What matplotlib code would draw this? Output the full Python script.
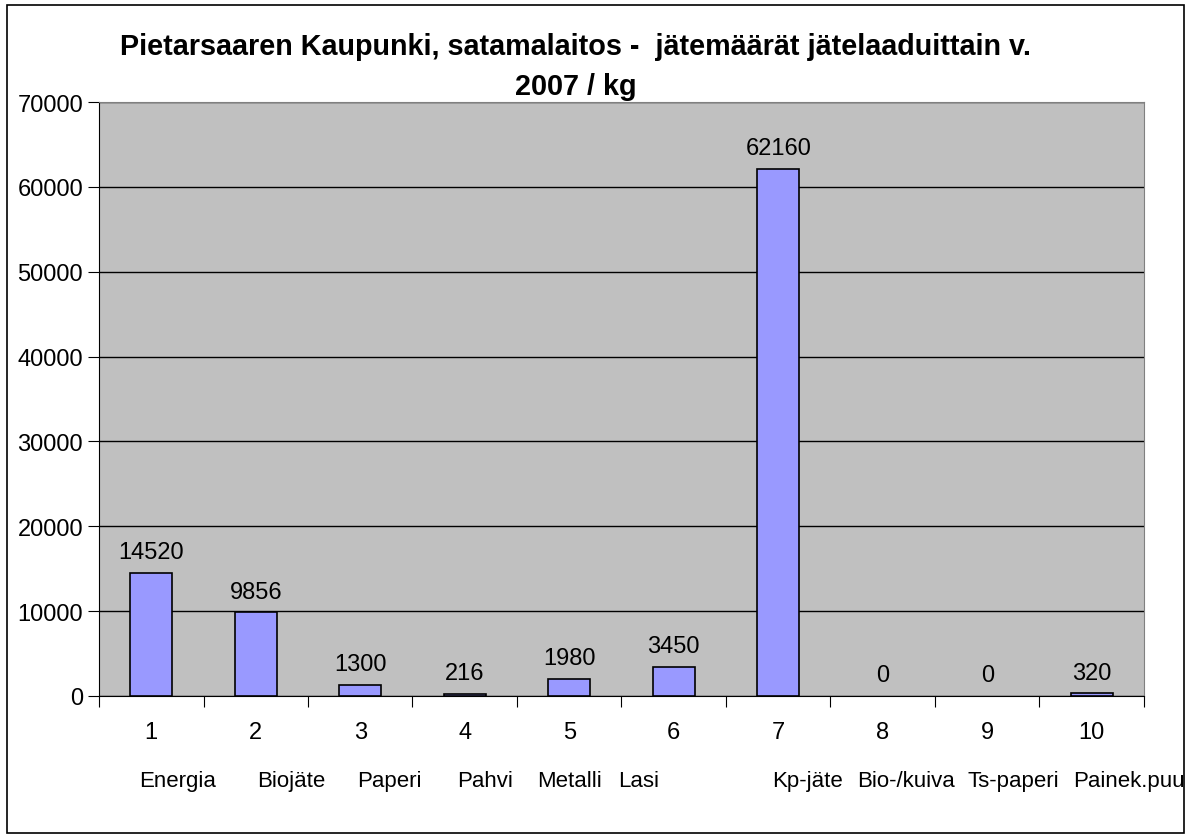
import matplotlib
matplotlib.use("Agg")
import matplotlib.pyplot as plt
from matplotlib.patches import Rectangle

# data
nums = ["1", "2", "3", "4", "5", "6", "7", "8", "9", "10"]
names = ["Energia", "Biojäte", "Paperi", "Pahvi", "Metalli", "Lasi",
         "Kp-jäte", "Bio-/kuiva", "Ts-paperi", "Painek.puu"]
values = [14520, 9856, 1300, 216, 1980, 3450, 62160, 0, 0, 320]
yticks = [0, 10000, 20000, 30000, 40000, 50000, 60000, 70000]

# name label shifts (in category units), names are not centred under numbers
name_shift = [0.25, 0.34, 0.28, 0.19, 0.0, -0.34, 0.28, 0.22, 0.25, 0.36]

plt.rcParams['font.family'] = ['Liberation Sans', 'DejaVu Sans']

fig = plt.figure(figsize=(11.9, 8.37), dpi=100)
ax = fig.add_axes([0.0832, 0.1673, 0.8781, 0.7096])

x = list(range(len(values)))
ax.set_facecolor("#C0C0C0")
# no outline on empty bars
lw = [1.2 if v > 0 else 0 for v in values]
ax.bar(x, values, width=0.4, color="#9999FF", edgecolor="black", linewidth=lw, zorder=3)

ax.set_xlim(-0.5, len(values) - 0.5)
ax.set_ylim(0, 70000)
ax.set_yticks(yticks)
ax.set_yticklabels([str(v) for v in yticks], fontsize=17)
ax.yaxis.grid(True, color="black", linewidth=1, zorder=1)
ax.set_axisbelow(True)

# ticks between categories
ax.set_xticks([i - 0.5 for i in range(len(values) + 1)])
ax.set_xticklabels([])
ax.tick_params(axis="x", direction="out", length=8, color="black")
ax.tick_params(axis="y", direction="out", length=8, color="black")

for s in ["top", "right"]:
    ax.spines[s].set_color("#808080")
ax.spines["left"].set_color("black")
ax.spines["bottom"].set_color("black")

# value labels
for i, v in enumerate(values):
    ax.annotate(str(v), (i, v), xytext=(0, 7), textcoords="offset points",
                ha="center", va="bottom", fontsize=17)

# category numbers and names
trans = ax.get_xaxis_transform()
for i in range(len(values)):
    ax.text(i, -0.06, nums[i], transform=trans, ha="center", va="center", fontsize=17)
    ax.text(i + name_shift[i], -0.143, names[i], transform=trans, ha="center",
            va="center", fontsize=16)

fig.text(0.484, 0.944, "Pietarsaaren Kaupunki, satamalaitos -  jätemäärät jätelaaduittain v.",
         ha="center", va="center", fontsize=20.7, fontweight="bold")
fig.text(0.484, 0.896, "2007 / kg", ha="center", va="center", fontsize=20.7, fontweight="bold")

# outer border
fig.patches.append(Rectangle((0.006, 0.003), 0.989, 0.99, transform=fig.transFigure,
                             fill=False, edgecolor="black", linewidth=1.2))

fig.savefig("out.png", dpi=100)
